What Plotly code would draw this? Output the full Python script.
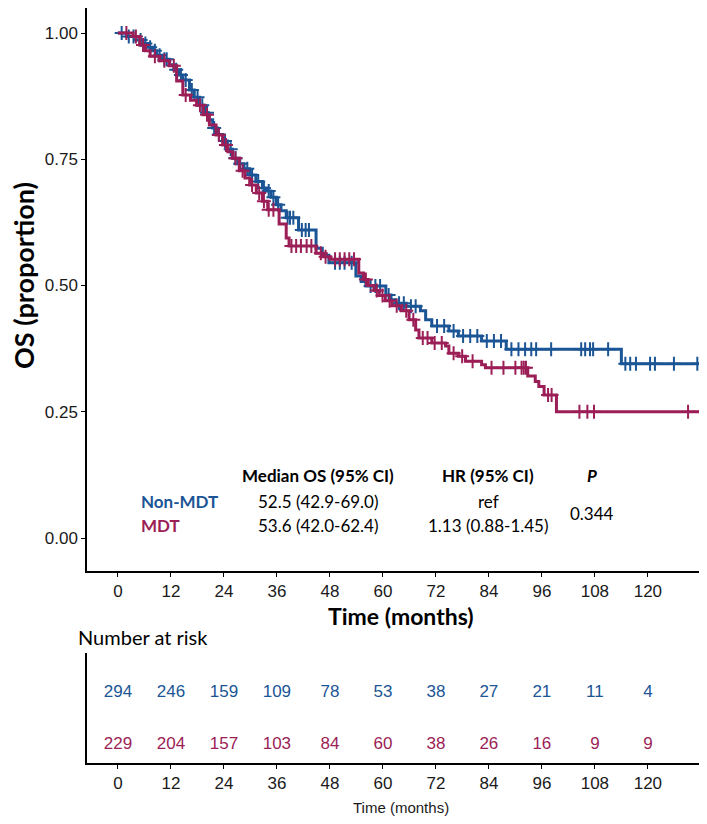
import numpy as np
import plotly.graph_objects as go

W, H = 707, 824

# ---------------- data ----------------
groups = ["Non-MDT", "MDT"]
colors = {"Non-MDT": "#1b5595", "MDT": "#9c1e57"}

nonmdt_t = [0, 1.92, 4.07, 5.68, 6.75, 7.83, 8.79, 9.98, 11.59, 12.66, 13.73, 14.70, 16.20, 17.28, 18.46, 19.64,
            20.50, 21.46, 22.54, 23.72, 24.79, 25.97, 27.16, 28.55, 29.84, 31.24, 32.74, 33.60, 34.67, 35.85, 36.93,
            38.11, 40.90, 44.87, 46.27, 47.77, 53.89, 55.08, 56.15, 60.66, 61.84, 62.91, 65.28, 68.50, 69.68, 71.07,
            74.94, 77.09, 82.35, 87.93, 114.0]
nonmdt_s = [1.0, 0.993, 0.986, 0.979, 0.972, 0.965, 0.956, 0.948, 0.937, 0.927, 0.917, 0.907, 0.887, 0.873, 0.857,
            0.842, 0.828, 0.812, 0.799, 0.786, 0.770, 0.752, 0.741, 0.731, 0.719, 0.706, 0.693, 0.687, 0.675, 0.660,
            0.648, 0.634, 0.610, 0.574, 0.560, 0.545, 0.519, 0.508, 0.499, 0.481, 0.472, 0.465, 0.459, 0.450, 0.432,
            0.420, 0.410, 0.400, 0.390, 0.374, 0.345]
nonmdt_cens = [0.85, 2.46, 3.53, 5.14, 6.22, 7.29, 8.37, 9.44, 10.51, 11.05, 13.2, 14.27, 15.35, 16.74, 18.03, 19.1,
               20.18, 21.79, 22.86, 24.26, 25.54, 26.62, 27.69, 29.3, 30.38, 31.77, 33.06, 34.14, 35.21, 36.28,
               38.43, 38.97, 39.72, 41.65, 42.51, 43.26, 49.17, 50.24, 51.32, 52.93, 57.22, 58.3, 59.37, 61.3,
               63.66, 64.74, 66.35, 67.42, 72.26, 73.87, 76.01, 78.16, 79.77, 81.38, 83.53, 85.14, 86.75, 89.1,
               90.7, 92.2, 93.6, 94.7, 98.1, 104.9, 105.8, 106.9, 107.6, 111.0, 114.9, 116.0, 117.3, 120.5, 121.6,
               125.9, 131.2, 132.8]

mdt_t = [0, 3.43, 4.93, 6.22, 7.29, 9.44, 11.69, 13.30, 14.70, 16.42, 17.81, 19.32, 20.71, 22.22, 23.72, 24.90,
         25.97, 27.48, 28.77, 29.84, 31.34, 32.74, 33.92, 36.50, 38.11, 38.75, 44.87, 46.48, 48.10, 54.54, 55.61,
         56.69, 57.97, 59.15, 60.55, 62.06, 64.20, 65.92, 67.42, 68.17, 71.07, 74.19, 74.94, 77.09, 78.70, 82.35,
         83.21, 92.8, 94.5, 95.3, 96.5, 99.3]
mdt_s = [1.0, 0.993, 0.976, 0.965, 0.954, 0.945, 0.935, 0.905, 0.877, 0.867, 0.857, 0.838, 0.818, 0.798, 0.778,
         0.765, 0.752, 0.727, 0.713, 0.699, 0.683, 0.667, 0.650, 0.622, 0.594, 0.578, 0.564, 0.557, 0.552, 0.525,
         0.512, 0.500, 0.490, 0.480, 0.470, 0.460, 0.450, 0.432, 0.412, 0.396, 0.386, 0.380, 0.366, 0.360, 0.350,
         0.343, 0.337, 0.321, 0.310, 0.300, 0.283, 0.250]
mdt_cens = [1.92, 4.07, 5.68, 8.37, 10.51, 12.66, 15.35, 18.57, 20.18, 22.86, 24.47, 26.62, 28.23, 30.38, 31.99,
            33.06, 34.14, 35.21, 39.29, 40.36, 41.44, 42.73, 43.8, 45.95, 47.02, 49.17, 50.24, 51.32, 52.39, 53.47,
            56.15, 58.62, 59.91, 61.52, 63.13, 65.28, 66.89, 69.03, 70.11, 71.72, 73.33, 76.01, 77.95, 80.31, 84.6,
            87.3, 90.0, 91.4, 91.9, 92.4, 97.4, 98.2, 104.5, 106.3, 107.8, 129.1, 131.8]

t_end = 136
risk_times = [0, 12, 24, 36, 48, 60, 72, 84, 96, 108, 120]
risk_nonmdt = [294, 246, 159, 109, 78, 53, 38, 27, 21, 11, 4]
risk_mdt = [229, 204, 157, 103, 84, 60, 38, 26, 16, 9, 9]

x_ticks = [0, 12, 24, 36, 48, 60, 72, 84, 96, 108, 120]
y_ticks = [0.0, 0.25, 0.5, 0.75, 1.0]
y_ticklabels = ["0.00", "0.25", "0.50", "0.75", "1.00"]

table_header = ["Median OS (95% CI)", "HR (95% CI)", "P"]
table_median = ["52.5 (42.9-69.0)", "53.6 (42.0-62.4)"]
table_hr = ["ref", "1.13 (0.88-1.45)"]
table_p = "0.344"

# ---------------- figure ----------------
def px(x):
    return x / W

def py(y):
    return 1 - y / H

curves = {"Non-MDT": (nonmdt_t, nonmdt_s, nonmdt_cens), "MDT": (mdt_t, mdt_s, mdt_cens)}

fig = go.Figure()
for g in groups:
    t, s, c = curves[g]
    tx = list(t) + [t_end]
    sy = list(s) + [s[-1]]
    fig.add_trace(go.Scatter(x=tx, y=sy, mode="lines", line=dict(color=colors[g], width=3, shape="hv"),
                             xaxis="x", yaxis="y", showlegend=False, hoverinfo="skip"))
    ta = np.array(t, dtype=float)
    idx = np.searchsorted(ta, np.array(c, dtype=float), side="right") - 1
    cy = np.array(s)[idx]
    fig.add_trace(go.Scatter(x=c, y=cy, mode="markers",
                             marker=dict(symbol="cross-thin", size=10, line=dict(color=colors[g], width=2)),
                             xaxis="x", yaxis="y", showlegend=False, hoverinfo="skip"))

# risk table
for g, vals, yv in [("Non-MDT", risk_nonmdt, 2), ("MDT", risk_mdt, 1)]:
    fig.add_trace(go.Scatter(x=risk_times, y=[yv] * len(risk_times), mode="text",
                             text=[str(v) for v in vals],
                             textfont=dict(family="Liberation Sans, Arial", size=17, color=colors[g]),
                             xaxis="x2", yaxis="y2", showlegend=False, hoverinfo="skip"))

xrange = [-7.0, 135.2]
tickfont = dict(family="Liberation Sans, Arial", size=17, color="#1a1a1a")

x_left = 79
main_bottom = 563
risk_top, risk_bottom = 645, 755

axis_common = dict(showline=True, linecolor="black", linewidth=1.5, ticks="outside", ticklen=4, tickwidth=1.2,
                   tickcolor="black", showgrid=False, zeroline=False, tickfont=tickfont)

fig.update_layout(
    width=W, height=H, margin=dict(l=0, r=0, t=0, b=0),
    paper_bgcolor="white", plot_bgcolor="white",
    xaxis=dict(domain=[px(x_left), 1], range=xrange, tickvals=x_ticks, ticktext=[str(v) for v in x_ticks],
               anchor="y", **axis_common),
    yaxis=dict(domain=[py(main_bottom), 1], range=[-0.0653, 1.0495], tickvals=y_ticks, ticktext=y_ticklabels,
               anchor="x", **axis_common),
    xaxis2=dict(domain=[px(x_left), 1], range=xrange, tickvals=x_ticks, ticktext=[str(v) for v in x_ticks],
                anchor="y2", **axis_common),
    yaxis2=dict(domain=[py(risk_bottom), py(risk_top)], range=[0.66, 2.76], showticklabels=False, ticks="",
                showline=True, linecolor="black", linewidth=1.5, showgrid=False, zeroline=False, anchor="x2"),
)

ann = []
title_font = "Lato, Open Sans, sans-serif"
ann.append(dict(text="<b>OS (proportion)</b>", x=px(15), y=py(268), xref="paper", yref="paper", textangle=-90,
                showarrow=False, font=dict(family=title_font, size=27, color="black"),
                xanchor="center", yanchor="middle"))
ann.append(dict(text="<b>Time (months)</b>", x=px(393), y=py(608), xref="paper", yref="paper",
                showarrow=False, font=dict(family=title_font, size=23, color="black"),
                xanchor="center", yanchor="middle"))
ann.append(dict(text="Number at risk", x=px(68), y=py(629), xref="paper", yref="paper",
                showarrow=False, font=dict(family=title_font, size=20, color="black"),
                xanchor="left", yanchor="middle"))
ann.append(dict(text="Time (months)", x=px(393), y=py(799), xref="paper", yref="paper",
                showarrow=False, font=dict(family="Liberation Sans, Arial", size=15, color="#1a1a1a"),
                xanchor="center", yanchor="middle"))

# stats table
tf = dict(family=title_font, size=17, color="black")
col_med, col_hr, col_p = 310, 480, 584
ann.append(dict(text="<b>" + table_header[0] + "</b>", x=px(col_med), y=py(467), xref="paper", yref="paper",
                showarrow=False, font=tf, xanchor="center", yanchor="middle"))
ann.append(dict(text="<b>" + table_header[1] + "</b>", x=px(col_hr), y=py(467), xref="paper", yref="paper",
                showarrow=False, font=tf, xanchor="center", yanchor="middle"))
ann.append(dict(text="<b><i>" + table_header[2] + "</i></b>", x=px(col_p), y=py(467), xref="paper", yref="paper",
                showarrow=False, font=tf, xanchor="center", yanchor="middle"))
for i, (g, yy) in enumerate([("Non-MDT", 493), ("MDT", 517)]):
    ann.append(dict(text="<b>" + g + "</b>", x=px(131), y=py(yy), xref="paper", yref="paper", showarrow=False,
                    font=dict(family=title_font, size=17, color=colors[g]), xanchor="left", yanchor="middle"))
    ann.append(dict(text=table_median[i], x=px(col_med), y=py(yy), xref="paper", yref="paper", showarrow=False,
                    font=tf, xanchor="center", yanchor="middle"))
    ann.append(dict(text=table_hr[i], x=px(col_hr), y=py(yy), xref="paper", yref="paper", showarrow=False,
                    font=tf, xanchor="center", yanchor="middle"))
ann.append(dict(text=table_p, x=px(col_p), y=py(505), xref="paper", yref="paper", showarrow=False,
                font=tf, xanchor="center", yanchor="middle"))

fig.update_layout(annotations=ann)
fig.write_html("out.html")
